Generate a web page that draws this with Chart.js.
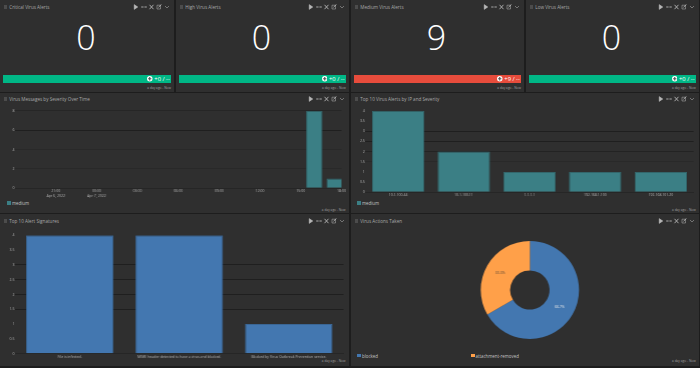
<!DOCTYPE html>
<html>
<head>
<meta charset="utf-8">
<title>Virus dashboard</title>
<script src="https://cdn.jsdelivr.net/npm/chart.js@4"></script>
<style>
  html, body { margin: 0; padding: 0; background: #1d1d1d; }
  body { width: 700px; height: 368px; position: relative; overflow: hidden; font-family: "Open Sans", sans-serif; color: #b4b4b4; }
  .panel { position: absolute; background: #2f2f2f; }
  .panel canvas { position: absolute; left: 0; top: 0; }
  .check { position: absolute; left: 3.5px; width: 3.5px; height: 3.5px; background: #4c4c4c; }
  .title { position: absolute; left: 9.3px; font-size: 4.6px; line-height: 6px; white-space: nowrap; color: #a8a8a8; }
  .icons { position: absolute; right: 4px; }
  .icons svg { display: block; }
  .foot { position: absolute; right: 3px; font-size: 3.2px; line-height: 4px; color: #a0a0a0; white-space: nowrap; }
  .big { position: absolute; left: 0; right: 2px; top: 14px; text-align: center; font-size: 34px; line-height: 46px; font-weight: 300; color: #fff; }
  .status { position: absolute; left: 3px; right: 3px; top: 75px; height: 8px; color: #fff; font-size: 5.8px; line-height: 8px; text-align: right; padding-right: 1.2px; box-sizing: border-box; }
  .status svg { position: absolute; right: 18.5px; top: 1.25px; }
  .legend { position: absolute; font-size: 4.4px; line-height: 6px; color: #c4c4c4; white-space: nowrap; }
  .legend i { position: absolute; left: -4.6px; top: 1.2px; width: 3.6px; height: 3.6px; }
</style>
</head>
<body>
<script>
// top row
const metricTitles = ["Critical Virus Alerts", "High Virus Alerts", "Medium Virus Alerts", "Low Virus Alerts"];
const metricValues = ["0", "0", "9", "0"];
const metricDeltas = ["+0 / --", "+0 / --", "+9 / --", "+0 / --"];
const footText = "a day ago - Now";

// severity over time, x is hours counted from midnight Apr 6
const timeBuckets = [40, 41.5];
const timeCounts = [8, 1];
const timeTicks = { 21: ["21:00", "Apr 6, 2022"], 24: ["00:00", "Apr 7, 2022"], 27: "03:00", 30: "06:00", 33: "09:00", 36: "12:00", 39: "15:00", 42: "18:00" };

// top ips
const ipLabels = ["10.1.100.44", "10.1.100.11", "1.1.1.1", "192.168.1.100", "192.168.101.20"];
const ipCounts = [4, 2, 1, 1, 1];

// signatures
const sigLabels = ["File is infected.", "MIME header detected to have a virus and blocked.", "Blocked by Virus Outbreak Prevention service."];
const sigCounts = [4, 4, 1];

// actions
const actionLabels = ["blocked", "attachment-removed"];
const actionCounts = [6, 3];

const TEAL = "#3b7f85", TEAL_EDGE = "#33666b";
const BLUE = "#4377b0", BLUE_EDGE = "#3a6695";
const ORANGE = "#ffa049";
const GREEN = "#00b786", RED = "#e74c3c";
const TICK_FONT = { family: "'Open Sans'", size: 3.5, lineHeight: 1.35 };

function iconRow() {
  return '<svg width="40" height="6" viewBox="0 0 40 6" fill="#b8b8b8" stroke="#b8b8b8" stroke-width="0.5">' +
    '<path d="M4.2 0.6 L7.8 3 L4.2 5.4 Z"/>' +
    '<path d="M11.5 3 H16.5 M12.5 2 L11.5 3 L12.5 4 M15.5 2 L16.5 3 L15.5 4" fill="none"/>' +
    '<path d="M19.5 .8 L23.5 5.2 M23.5 .8 L19.5 5.2" fill="none" stroke-width="0.9"/>' +
    '<path d="M27 1.2 H30.5 V5 H27 Z" fill="none"/><path d="M28.5 3.2 L31.4 .5" stroke-width="0.9"/>' +
    '<path d="M35 2 L37 4 L39 2" fill="none"/></svg>';
}

function addPanel(x, y, w, h, title, titleY, footBottom) {
  const p = document.createElement("div");
  p.className = "panel";
  p.style.cssText = `left:${x}px;top:${y}px;width:${w}px;height:${h}px`;
  p.innerHTML =
    `<div class="check" style="top:${titleY + 1.2}px"></div>` +
    `<div class="title" style="top:${titleY}px">${title}</div>` +
    `<div class="icons" style="top:${titleY}px">${iconRow()}</div>` +
    `<div class="foot" style="bottom:${footBottom}px">${footText}</div>`;
  document.body.appendChild(p);
  return p;
}

function addLegend(panel, x, y, name, color) {
  const l = document.createElement("div");
  l.className = "legend";
  l.style.cssText = `left:${x}px;top:${y}px`;
  l.innerHTML = `<i style="background:${color}"></i>${name}`;
  panel.appendChild(l);
}

function addCanvas(panel, w, h) {
  const c = document.createElement("canvas");
  c.width = w;
  c.height = h;
  c.style.width = w + "px";
  c.style.height = h + "px";
  panel.appendChild(c);
  return c;
}

// plot box is given inside the panel: left, top, right, bottom
function baseOptions(box, w, h, gridColors) {
  return {
    responsive: false,
    animation: false,
    layout: { padding: { top: box.top, right: w - box.right, left: 0, bottom: 0 } },
    plugins: { legend: { display: false }, tooltip: { enabled: false } },
    scales: {
      y: {
        min: 0,
        afterFit: (s) => { s.width = box.left; },
        border: { display: false },
        grid: {
          drawTicks: false,
          lineWidth: 1,
          color: (c) => gridColors[c.tick.value] || "rgba(0,0,0,0)",
        },
        ticks: { color: "#b4b4b4", font: TICK_FONT, padding: 0.5, autoSkip: false, callback: (v) => v },
      },
      x: {
        afterFit: (s) => { s.height = h - box.bottom; },
        border: { display: true, color: "#262626" },
        grid: { display: false, drawTicks: false },
        ticks: { color: "#b4b4b4", font: TICK_FONT, padding: 0.5, maxRotation: 0, autoSkip: false },
      },
    },
  };
}

// metric panels
const metricX = [0, 176, 351, 526];
const metricW = [174, 172.7, 173, 172.7];
metricX.forEach((x, i) => {
  const p = addPanel(x, 0, metricW[i], 92, metricTitles[i], 3.8, 2.5);
  const big = document.createElement("div");
  big.className = "big";
  big.textContent = metricValues[i];
  p.appendChild(big);
  const bar = document.createElement("div");
  bar.className = "status";
  bar.style.background = metricValues[i] === "0" ? GREEN : RED;
  bar.innerHTML = metricDeltas[i] +
    '<svg width="5.5" height="5.5" viewBox="0 0 10 10"><circle cx="5" cy="5" r="5" fill="#fff"/>' +
    '<path d="M5 2 V8 M2 5 H8" stroke="#555" stroke-width="2"/></svg>';
  p.appendChild(bar);
});

// severity over time
{
  const w = 348.5, h = 120;
  const p = addPanel(0, 93, w, h, "Virus Messages by Severity Over Time", 2.8, 1);
  addLegend(p, 12, 107, "medium", TEAL);
  const box = { left: 15, top: 17.7, right: 341, bottom: 95.3 };
  const opts = baseOptions(box, w, h, { 8: "#262626", 6: "#1f1f1f", 4: "#292929", 2: "#292929" });
  opts.scales.x.type = "linear";
  opts.scales.x.offset = false;
  opts.scales.x.min = 18;
  opts.scales.x.max = 42;
  opts.scales.x.afterBuildTicks = (s) => { s.ticks = Object.keys(timeTicks).map((v) => ({ value: +v })); };
  opts.scales.x.ticks.callback = (v) => timeTicks[v];
  opts.scales.y.max = 8;
  opts.scales.y.ticks.stepSize = 2;
  new Chart(addCanvas(p, w, h), {
    type: "bar",
    data: {
      datasets: [{
        label: "medium",
        data: timeBuckets.map((t, i) => ({ x: t, y: timeCounts[i] })),
        backgroundColor: TEAL,
        borderColor: TEAL_EDGE,
        borderWidth: 1,
        barPercentage: 0.9,
        categoryPercentage: 0.9,
      }],
    },
    options: opts,
  });
}

// top ips
{
  const w = 347.7, h = 120;
  const p = addPanel(351, 93, w, h, "Top 10 Virus Alerts by IP and Severity", 2.8, 1);
  addLegend(p, 11, 107, "medium", TEAL);
  const box = { left: 14.3, top: 17.7, right: 342.3, bottom: 99.3 };
  const opts = baseOptions(box, w, h, { 3: "#1f1f1f", 2.5: "#1f1f1f", 2: "#232323", 1.5: "#292929" });
  opts.scales.y.max = 4;
  opts.scales.y.ticks.stepSize = 0.5;
  new Chart(addCanvas(p, w, h), {
    type: "bar",
    data: {
      labels: ipLabels,
      datasets: [{ label: "medium", data: ipCounts, backgroundColor: TEAL, borderColor: TEAL_EDGE, borderWidth: 1, barPercentage: 0.8, categoryPercentage: 1 }],
    },
    options: opts,
  });
}

// signatures
{
  const w = 348.5, h = 152;
  const p = addPanel(0, 214, w, h, "Top 10 Alert Signatures", 4, 2.8);
  const box = { left: 15, top: 21.3, right: 343, bottom: 139.7 };
  const opts = baseOptions(box, w, h, { 3: "#1f1f1f", 2.5: "#1f1f1f", 2: "#1f1f1f", 1.5: "#1f1f1f" });
  opts.scales.y.max = 4;
  opts.scales.y.ticks.stepSize = 0.5;
  new Chart(addCanvas(p, w, h), {
    type: "bar",
    data: {
      labels: sigLabels,
      datasets: [{ label: "count", data: sigCounts, backgroundColor: BLUE, borderColor: BLUE_EDGE, borderWidth: 1, barPercentage: 0.8, categoryPercentage: 1 }],
    },
    options: opts,
  });
}

// actions
{
  const w = 347.7, h = 152;
  const p = addPanel(351, 214, w, h, "Virus Actions Taken", 4, 2.8);
  addLegend(p, 11, 138.7, actionLabels[0], BLUE);
  addLegend(p, 124.5, 138.7, actionLabels[1], ORANGE);
  const pctLabels = {
    id: "pctLabels",
    afterDatasetsDraw(chart) {
      const ctx = chart.ctx;
      const total = actionCounts.reduce((a, b) => a + b, 0);
      chart.getDatasetMeta(0).data.forEach((arc, i) => {
        const pos = arc.tooltipPosition();
        ctx.save();
        ctx.font = "3.5px 'Open Sans'";
        ctx.textAlign = "center";
        ctx.textBaseline = "middle";
        ctx.fillStyle = i === 0 ? "#e8e8e8" : "#5a4a38";
        ctx.fillText((actionCounts[i] / total * 100).toFixed(1) + "%", pos.x, pos.y);
        ctx.restore();
      });
    },
  };
  new Chart(addCanvas(p, w, h), {
    type: "doughnut",
    data: {
      labels: actionLabels,
      datasets: [{ data: actionCounts, backgroundColor: [BLUE, ORANGE], borderWidth: 0 }],
    },
    options: {
      responsive: false,
      animation: false,
      cutout: "40%",
      radius: 49,
      layout: { padding: { left: 9.7, right: 0, top: 27, bottom: 27 } },
      plugins: { legend: { display: false }, tooltip: { enabled: false } },
    },
    plugins: [pctLabels],
  });
}
</script>
</body>
</html>
